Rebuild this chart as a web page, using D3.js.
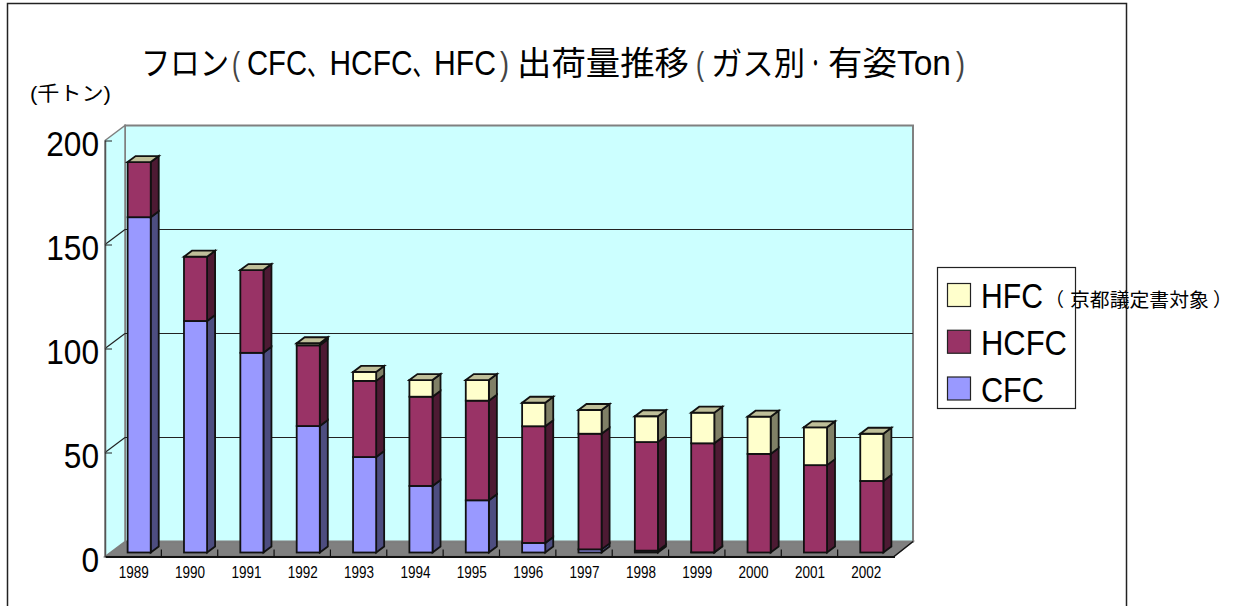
<!DOCTYPE html>
<html>
<head>
<meta charset="utf-8">
<script src="https://cdn.jsdelivr.net/npm/d3@7"></script>
<style>
  html, body { margin: 0; padding: 0; background: #fff; overflow: hidden; }
  text { font-family: "Liberation Sans", "Noto Sans CJK JP", sans-serif; fill: #000; }
</style>
</head>
<body>
<script>
//values (thousand tons)
const years = ['1989','1990','1991','1992','1993','1994','1995','1996','1997','1998','1999','2000','2001','2002'];
const cfc  = [161.2, 111.3, 96, 60.8, 45.9, 32, 25.1, 4.6, 1.5, 0.9, 0.1, 0, 0, 0];
const hcfc = [26.5, 30.9, 39.8, 38.8, 36.6, 42.9, 47.9, 56.1, 55.6, 52.2, 52.4, 47.4, 42, 34.4];
const hfc  = [0, 0, 0, 1, 4.3, 8, 9.9, 11.3, 11.4, 12.4, 14.7, 17.9, 18.2, 22.7];
const yTicks = [0, 50, 100, 150, 200];
const seriesNames = ['CFC', 'HCFC', 'HFC'];

const w = 1240, h = 606;
const colors = {CFC: ['#9999ff', '#4d4d80'], HCFC: ['#993366', '#4d1a33'], HFC: ['#ffffcc', '#808066']};
const topColor = '#bfbf99';
const depthX = 20, depthY = 15;   //wall depth
const barDX = 8, barDY = 6;       //bar depth

const svg = d3.select('body').append('svg').attr('width', w).attr('height', h).style('display', 'block');

const x = d3.scaleBand().domain(years).range([105, 894]).paddingInner(0.59).paddingOuter(0.295);
const y = d3.scaleLinear().domain([0, 200]).range([556.5, 140.5]);
const barW = x.bandwidth();

const rows = years.map((d, i) => ({year: d, CFC: cfc[i], HCFC: hcfc[i], HFC: hfc[i]}));
const stacked = d3.stack().keys(seriesNames)(rows);

const poly = (g, pts, fill, stroke, sw) => g.append('polygon')
  .attr('points', pts.map(p => p.join(',')).join(' '))
  .attr('fill', fill).attr('stroke', stroke).attr('stroke-width', sw).attr('stroke-linejoin', 'miter');

//squeezed text, the original font is narrower than Liberation
const label = (g, px, py, size, len, str, fill) => {
  const t = g.append('text').attr('font-size', size).style('fill', fill || '#000').text(str);
  const sx = len / t.node().getComputedTextLength();
  return t.attr('transform', 'translate(' + px + ',' + py + ') scale(' + sx + ',1)');
};

//outer frame, the bottom edge falls off the page
svg.append('rect').attr('x', 7.5).attr('y', 3.5).attr('width', 1119).attr('height', 700)
  .attr('fill', '#fff').attr('stroke', '#222').attr('stroke-width', 1.5);

//walls and floor
const x0 = x.range()[0], x1 = x.range()[1], y0 = y(0), yTop = y(200);
const walls = svg.append('g');
poly(walls, [[x0, y0], [x0 + depthX, y0 - depthY], [x1 + depthX - 1, y0 - depthY], [x1, y0]], '#808080', '#6e6e6e', 1.5);
poly(walls, [[x0 + depthX, yTop - depthY], [x1 + depthX - 1, yTop - depthY], [x1 + depthX - 1, y0 - depthY], [x0 + depthX, y0 - depthY]], '#ccffff', '#808080', 2);
poly(walls, [[x0, yTop], [x0 + depthX, yTop - depthY], [x0 + depthX, y0 - depthY], [x0, y0]], '#ccffff', '#808080', 1.5);

//gridlines on the back and left wall
const grid = svg.append('g').attr('stroke', '#222').attr('stroke-width', 1.2).attr('fill', 'none');
yTicks.filter(d => d > 0 && d < 200).forEach(d => {
  grid.append('line').attr('x1', x0).attr('y1', y(d)).attr('x2', x0 + depthX).attr('y2', y(d) - depthY);
  grid.append('line').attr('x1', x0 + depthX).attr('y1', y(d) - depthY).attr('x2', x1 + depthX - 1).attr('y2', y(d) - depthY);
});

//axes
const yAxis = d3.axisLeft(y).tickValues(yTicks).tickSizeInner(-7).tickSizeOuter(0).tickPadding(6);
const yG = svg.append('g').attr('transform', 'translate(' + x0 + ',0)').call(yAxis);
yG.select('.domain').attr('stroke', '#555').attr('stroke-width', 1.5);
yG.selectAll('.tick line').attr('stroke', '#222');
yG.selectAll('.tick text').attr('font-size', 35).attr('dy', '0.44em').attr('fill', '#000')
  .attr('textLength', d => String(d).length * 17.6).attr('lengthAdjust', 'spacingAndGlyphs');

const xAxis = d3.axisBottom(x).tickSize(0).tickPadding(10);
const xG = svg.append('g').attr('transform', 'translate(0.5,' + y0 + ')').call(xAxis);
xG.select('.domain').attr('stroke', '#111').attr('stroke-width', 1.8);
xG.selectAll('.tick text').attr('font-size', 16).attr('textLength', 30).attr('lengthAdjust', 'spacingAndGlyphs').attr('fill', '#111');

//category boundary ticks and the floor's right edge
const xTicks = svg.append('g').attr('stroke', '#111').attr('stroke-width', 1.2);
years.slice(1).forEach(d => {
  xTicks.append('line').attr('x1', x(d) - x.step() * 0.295).attr('x2', x(d) - x.step() * 0.295).attr('y1', y0).attr('y2', y0 - 7);
});
xTicks.append('line').attr('x1', x1).attr('y1', y0).attr('x2', x1 + depthX - 1).attr('y2', y0 - depthY);

//bars, front to the left then stacked upward
const barBase = 6, barLift = 4, edge = 1.8;
const bars = svg.append('g');
years.forEach((yr, i) => {
  const bx = x(yr) + barBase;
  stacked.forEach(s => {
    const lo = y(s[i][0]) - barLift, hi = y(s[i][1]) - barLift;
    if (hi === lo) return;
    const c = colors[s.key];
    const g = bars.append('g').attr('class', s.key);
    poly(g, [[bx + barW, lo], [bx + barW + barDX, lo - barDY], [bx + barW + barDX, hi - barDY], [bx + barW, hi]], c[1], '#111', edge);
    g.append('rect').attr('x', bx).attr('y', hi).attr('width', barW).attr('height', lo - hi)
      .attr('fill', c[0]).attr('stroke', '#111').attr('stroke-width', edge);
  });
  const t = y(stacked[2][i][1]) - barLift;
  poly(bars, [[bx, t], [bx + barDX, t - barDY], [bx + barW + barDX, t - barDY], [bx + barW, t]], topColor, '#111', edge);
});

//title, placed piece by piece because the spacing of the original is irregular
const title = svg.append('g');
const titleBase = 75;
label(title, 141, titleBase, 33, 88, 'フロン');
label(title, 232, titleBase, 33, 8, '(', '#444');
label(title, 247, titleBase, 35, 60, 'CFC');
label(title, 307, titleBase, 33, 22, '、');
label(title, 329.5, titleBase, 35, 83, 'HCFC');
label(title, 412.5, titleBase, 33, 21.5, '、');
label(title, 434, titleBase, 35, 62, 'HFC');
label(title, 500, titleBase, 33, 9, ')', '#444');
label(title, 517, titleBase, 33.5, 172, '出荷量推移');
label(title, 696, titleBase, 33, 8, '(', '#444');
label(title, 711, titleBase, 32, 94, 'ガス別');
label(title, 811, titleBase, 33, 9, '･');
label(title, 828, titleBase, 33, 69, '有姿');
label(title, 897, titleBase, 35, 54, 'Ton');
label(title, 956, titleBase, 33, 9, ')', '#444');

label(svg, 30, 100.5, 20, 81, '(千トン)');

//legend
const legend = svg.append('g');
legend.append('rect').attr('x', 937.5).attr('y', 267.5).attr('width', 138).attr('height', 141)
  .attr('fill', '#fff').attr('stroke', '#222').attr('stroke-width', 1.2);
const legendNames = ['HFC', 'HCFC', 'CFC'];
const legendY = d3.scalePoint().domain(legendNames).range([295, 388.5]);
const legendW = {HFC: 62, HCFC: 86, CFC: 63};
legendNames.forEach(n => {
  legend.append('rect').attr('x', 947.5).attr('y', legendY(n) - 11.5).attr('width', 23).attr('height', 23)
    .attr('fill', colors[n][0]).attr('stroke', '#222').attr('stroke-width', 1.2);
  label(legend, 981, legendY(n) + 13, 35, legendW[n], n);
});
const note = svg.append('g');
label(note, 1045, 307, 19, 19, '（');
label(note, 1070, 307, 19.5, 139, '京都議定書対象');
label(note, 1213, 307, 19, 19, '）');
</script>
</body>
</html>
